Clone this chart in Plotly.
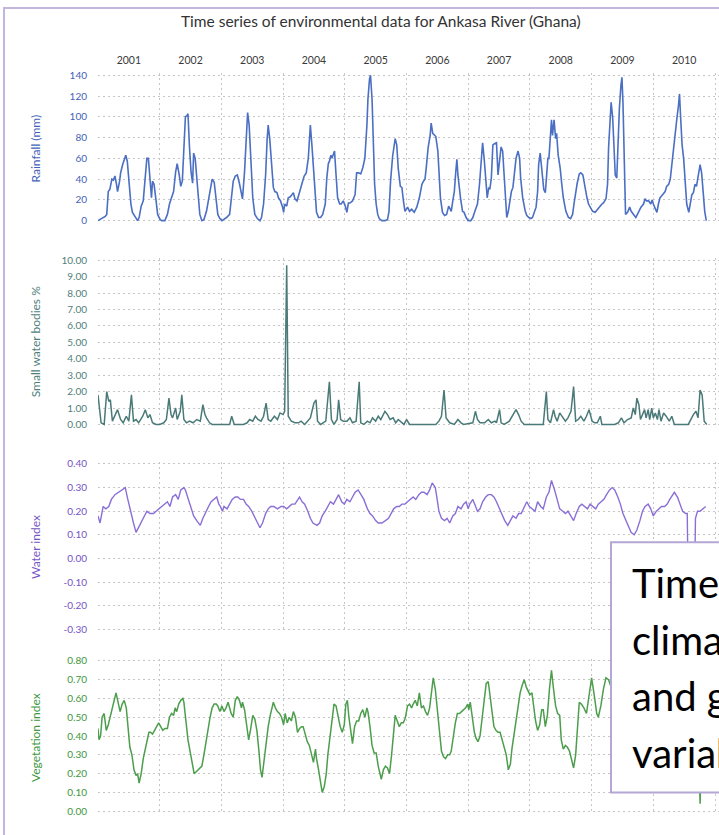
import plotly.graph_objects as go

# ---------------- data (time in months since Jan 2001) ----------------
rain_month = [0.0,0.7,1.4,1.7,2.0,2.3,2.7,3.0,3.3,3.6,3.8,4.2,4.4,4.8,5.1,5.4,5.7,6.0,6.4,6.7,7.2,7.7,8.0,8.4,8.8,9.1,9.5,9.8,10.1,10.4,10.6,10.9,11.3,11.6,12.1,
    12.4,13.0,13.5,13.9,14.2,14.7,15.1,15.4,15.8,16.1,16.4,16.7,17.0,17.3,17.5,17.8,18.1,18.4,18.6,18.9,19.2,19.5,19.8,20.2,20.6,21.1,21.7,22.2,22.6,23.0,23.3,23.7,24.1,
    24.4,25.0,25.6,26.0,26.3,26.7,27.1,27.5,27.9,28.1,28.5,28.8,29.1,29.4,29.7,30.1,30.5,31.0,31.5,31.8,32.2,32.6,32.9,33.1,33.4,33.6,33.9,34.1,34.4,34.8,35.1,35.5,35.9,36.1,
    36.3,36.7,37.0,37.4,37.7,38.0,38.3,38.7,39.0,39.4,39.8,40.1,40.5,40.9,41.1,41.3,41.6,41.9,42.2,42.5,42.9,43.3,43.7,44.2,44.5,44.8,45.0,45.3,45.5,45.8,46.0,46.3,46.6,47.0,47.3,47.7,48.1,
    48.4,48.7,49.0,49.5,50.0,50.3,50.7,51.1,51.5,51.9,52.3,52.5,52.8,53.0,53.3,53.6,53.8,54.1,54.4,54.7,55.2,55.8,56.3,56.6,56.9,57.3,57.6,57.8,58.1,58.4,58.8,59.1,59.4,59.7,60.1,
    60.2,60.6,61.0,61.5,62.0,62.5,63.0,63.3,63.6,63.9,64.2,64.6,64.8,65.1,65.4,65.7,66.1,66.3,66.6,67.0,67.4,67.8,68.2,68.5,68.7,69.0,69.3,69.6,69.8,70.0,70.3,70.5,70.9,71.2,71.6,72.0,
    72.5,72.9,73.3,73.8,74.2,74.5,74.8,75.1,75.4,75.7,76.0,76.2,76.5,76.8,77.1,77.5,77.8,78.1,78.4,78.7,79.0,79.2,79.5,79.8,80.1,80.4,80.7,81.0,81.3,81.7,82.0,82.2,82.6,83.1,83.4,83.8,
    84.2,84.5,84.9,85.2,85.5,85.7,86.0,86.2,86.5,86.7,87.0,87.3,87.5,87.7,87.9,88.2,88.4,88.7,89.0,89.2,89.5,89.9,90.2,90.5,91.0,91.5,91.9,92.3,92.6,92.9,93.2,93.6,93.9,94.3,94.7,95.1,95.4,95.8,
    96.2,96.7,97.1,97.5,98.0,98.3,98.8,99.1,99.3,99.6,99.8,100.1,100.4,100.6,100.9,101.1,101.4,101.7,101.9,102.1,102.3,102.6,103.0,103.4,103.7,104.1,104.6,105.1,105.6,106.1,106.4,106.7,107.1,107.5,107.8,108.0,108.3,108.7,
    109.0,109.3,109.8,110.3,110.6,111.0,111.3,111.6,111.9,112.2,112.6,112.9,113.1,113.3,113.6,113.9,114.2,114.5,114.9,115.2,115.5,115.8,116.1,116.4,116.8,117.1,117.4,117.7,118.0,118.3]
rain_mm = [0,2,4,6,28,30,40,39,43,35,28,38,46,54,60,63,57,38,16,8,4,0,3,14,19,35,60,60,41,22,38,35,19,6,1,
    0,0,6,16,21,28,47,55,44,33,38,73,100,101,103,70,47,36,65,60,44,28,6,0,1,9,28,40,37,19,6,2,0,
    1,3,6,22,38,43,44,36,24,21,47,76,104,92,57,22,6,2,0,3,16,44,79,92,79,65,50,32,28,27,22,19,13,8,
    16,14,22,23,25,27,21,19,24,30,38,43,46,60,78,92,73,50,25,8,3,3,6,16,41,55,57,63,60,65,67,44,22,16,16,19,14,
    8,17,17,19,25,46,46,45,51,60,92,117,136,140,117,76,35,16,6,2,0,0,1,9,38,62,76,79,73,50,33,32,19,9,12,
    13,9,11,8,13,22,35,38,40,54,70,82,94,84,82,81,67,48,22,8,5,6,14,11,9,19,28,48,59,44,28,22,9,8,3,0,
    0,3,9,16,35,57,75,60,35,22,32,30,41,73,74,75,44,60,71,67,44,19,3,9,19,28,32,44,60,67,60,41,22,9,5,3,
    2,3,8,13,28,54,65,54,41,30,27,50,60,60,79,97,82,97,79,84,63,50,35,22,9,3,2,6,17,28,36,45,46,44,32,22,16,13,
    9,8,11,13,16,17,21,35,70,101,114,99,70,44,41,73,108,130,138,114,67,6,8,13,9,6,3,8,13,16,21,19,19,16,20,16,12,8,
    16,22,25,28,33,35,40,55,63,82,99,111,122,101,73,60,35,16,8,19,25,27,35,33,46,54,46,28,9,0]

swb_month = [0.0,0.6,1.2,1.7,2.1,2.4,2.8,3.3,3.8,4.4,4.9,5.5,6.0,6.5,6.9,7.4,7.9,8.7,9.2,9.7,10.1,10.6,11.3,12.0,12.8,13.3,13.8,14.2,14.5,15.1,15.4,16.0,16.3,16.7,17.2,17.8,18.5,19.2,19.9,20.4,20.8,21.1,21.7,22.2,
    25.6,26.0,26.5,28.3,29.0,29.5,30.1,30.6,31.1,31.7,32.2,32.7,33.1,33.6,34.3,34.9,35.4,36.0,36.3,36.7,37.0,37.6,38.3,39.0,39.5,40.2,41.3,42.0,42.4,42.7,43.3,44.3,45.0,45.4,45.9,46.5,46.8,47.2,47.7,
    48.4,49.0,49.5,50.2,50.8,51.1,51.7,52.4,52.9,53.4,54.0,54.5,55.0,55.8,56.3,56.8,57.4,57.9,58.4,59.0,59.5,60.0,60.6,65.7,66.3,66.8,67.3,67.7,68.4,69.3,70.0,70.6,71.1,
    72.9,73.4,73.8,74.3,75.2,75.9,76.5,77.2,77.5,78.1,78.4,79.0,80.0,80.7,81.3,81.8,82.3,82.9,86.6,87.2,87.5,88.0,88.6,88.9,89.3,89.8,90.4,90.9,91.4,92.0,92.5,92.9,93.4,93.9,94.5,95.0,95.5,96.1,96.6,97.1,97.7,98.0,
    100.5,101.2,101.8,102.3,103.0,103.7,104.1,104.5,104.8,105.2,105.5,105.9,106.3,106.6,107.0,107.3,107.7,108.0,108.4,108.8,109.1,109.5,110.0,110.5,111.1,111.6,112.1,114.8,115.3,115.8,116.3,116.7,117.1,117.5,117.9,118.4]
swb_pct = [1.8,0.1,0,2.0,1.4,1.5,0.2,0.6,0.9,0.3,0.1,0.5,0.2,1.8,0.2,0.3,0.1,0.5,0.9,0.4,0.6,0.1,0,0,0.1,0.3,1.6,0.6,0.4,1.0,0.3,0.8,1.8,0.3,0.1,0.2,0.1,0.3,0.2,1.2,0.6,0.4,0.1,0,
    0,0.5,0,0,0.1,0.3,0.2,0.5,0.3,0.2,0.5,1.3,0.3,0.2,0.5,0.3,0.7,0.6,0.8,9.7,0.5,0.2,0.1,0.1,0.2,0,0.4,1.3,1.5,0.2,0,0.2,2.6,0.3,0,0.3,1.5,0.3,0.2,
    0.2,0.4,0.1,0.2,2.6,0.1,0,0.2,0.1,0.4,0.2,0.5,0.3,0.8,0.6,0.3,0.4,0.1,0.3,0.1,0,0.3,0,0,0.2,0.5,2.1,0.4,0.1,0,0.3,0.1,0,
    0.1,0.8,0.3,0.1,0.1,0.3,0.1,0.2,0.1,0.9,0.1,0,0.2,0.6,0.9,0.6,0.2,0,0,2.0,0.3,0.1,0.9,0.5,0.2,0.7,0.4,0.2,0.4,0.8,2.3,0.2,0.3,0.5,0.2,0.5,0.9,0.2,0.1,0.1,0.5,0,
    0,0.1,0.4,0.1,0.3,0.4,1.0,0.6,1.6,1.2,0.3,0.6,0.9,0.4,0.9,0.3,1.0,0.4,0.7,0.3,0.9,0.2,0.7,0.5,0.2,0.5,0,0,0.3,0.6,0.8,0.4,2.1,1.8,0.2,0]

wi_month = [0.0,0.4,1.0,1.5,2.1,2.6,3.3,4.0,4.6,5.3,5.8,6.3,6.9,7.4,7.9,8.5,9.0,9.5,10.1,10.8,11.3,11.9,12.4,12.9,13.5,14.0,14.5,15.1,15.6,16.1,16.7,17.0,17.6,18.1,18.6,19.2,19.9,20.4,21.0,21.5,22.0,22.6,23.1,23.5,23.8,
    24.2,24.5,25.1,25.6,26.1,26.7,27.2,27.7,28.3,28.8,29.3,29.9,30.4,31.0,31.5,32.0,32.6,33.1,33.6,34.2,34.9,35.6,36.1,36.7,37.2,37.7,38.3,38.8,39.2,39.7,40.2,40.8,41.3,41.8,42.6,43.1,43.6,44.2,44.7,45.2,45.8,46.3,46.8,47.4,47.9,
    48.4,49.0,49.5,50.0,50.6,51.1,51.7,52.4,52.9,53.4,54.0,54.5,55.2,55.9,56.5,57.0,57.5,58.1,58.6,59.1,59.7,60.2,60.7,61.3,61.8,62.4,62.9,63.4,64.0,64.5,65.0,65.6,65.9,66.3,66.8,67.4,67.9,68.4,69.0,69.5,70.0,70.6,71.1,71.6,
    72.0,72.3,72.9,73.4,73.8,74.3,74.8,75.4,75.9,76.5,77.0,77.5,78.1,78.6,79.1,79.7,80.2,80.7,81.3,81.8,82.3,82.9,83.4,83.9,84.5,85.0,85.5,86.1,86.6,87.2,87.7,88.2,88.8,89.3,89.8,90.4,90.9,91.4,92.0,92.5,93.0,93.6,94.1,94.6,95.2,95.7,
    96.3,96.8,97.3,97.9,98.4,98.9,99.5,100.0,100.5,101.1,101.6,102.1,102.7,103.2,103.7,104.3,104.8,105.4,105.9,106.4,107.0,107.5,108.0,108.6,109.1,109.6,110.2,110.7,111.2,111.8,112.1,112.7,113.2,113.7,114.3,114.6,114.8,116.0,116.2,116.6,117.1,117.7,118.2]
wi_val = [0.18,0.15,0.22,0.21,0.22,0.25,0.27,0.28,0.29,0.30,0.25,0.20,0.15,0.11,0.13,0.16,0.18,0.20,0.19,0.19,0.20,0.21,0.22,0.23,0.24,0.22,0.26,0.27,0.25,0.29,0.30,0.29,0.25,0.22,0.18,0.16,0.14,0.17,0.20,0.22,0.24,0.25,0.26,0.23,0.22,
    0.20,0.22,0.21,0.23,0.25,0.26,0.26,0.25,0.25,0.23,0.22,0.20,0.18,0.15,0.13,0.15,0.19,0.21,0.22,0.22,0.21,0.22,0.22,0.21,0.22,0.23,0.23,0.25,0.26,0.24,0.23,0.20,0.17,0.15,0.14,0.15,0.18,0.20,0.22,0.24,0.23,0.25,0.27,0.24,0.23,
    0.25,0.24,0.26,0.28,0.29,0.27,0.25,0.21,0.19,0.18,0.16,0.15,0.15,0.16,0.17,0.19,0.21,0.22,0.22,0.23,0.23,0.24,0.25,0.26,0.25,0.27,0.28,0.28,0.27,0.29,0.32,0.30,0.26,0.20,0.17,0.16,0.17,0.15,0.18,0.19,0.22,0.21,0.23,0.24,
    0.21,0.23,0.25,0.22,0.20,0.21,0.24,0.26,0.27,0.27,0.26,0.24,0.21,0.18,0.16,0.14,0.16,0.18,0.17,0.19,0.19,0.22,0.24,0.22,0.21,0.20,0.24,0.22,0.21,0.26,0.28,0.33,0.29,0.25,0.21,0.20,0.19,0.20,0.18,0.16,0.19,0.22,0.23,0.22,0.21,0.23,
    0.22,0.21,0.23,0.24,0.25,0.27,0.29,0.30,0.29,0.26,0.23,0.19,0.16,0.13,0.11,0.10,0.12,0.16,0.20,0.22,0.23,0.21,0.18,0.20,0.21,0.22,0.22,0.23,0.25,0.27,0.28,0.26,0.23,0.20,0.19,0.19,-0.15,-0.15,0.17,0.20,0.20,0.21,0.22]

vi_month = [0.0,0.2,0.5,0.8,1.2,1.6,2.0,2.5,3.0,3.5,3.9,4.3,4.7,5.1,5.5,5.9,6.2,6.6,7.0,7.4,7.7,8.0,8.4,8.8,9.2,9.6,9.9,10.2,10.6,11.0,11.4,11.8,
    12.2,12.6,13.0,13.5,13.9,14.3,14.7,15.0,15.3,15.7,16.1,16.5,16.7,17.1,17.5,17.9,18.3,18.7,19.1,19.5,19.8,20.2,20.6,21.0,21.4,21.8,22.2,22.6,23.0,23.3,23.7,
    24.1,24.5,24.9,25.3,25.6,25.9,26.3,26.7,27.1,27.5,27.9,28.1,28.5,28.9,29.3,29.7,30.1,30.5,30.9,31.3,31.6,31.9,32.3,32.7,33.1,33.5,33.9,34.1,34.5,34.9,35.3,35.7,
    36.1,36.4,36.8,37.2,37.6,38.0,38.4,38.8,39.2,39.6,39.9,40.3,40.7,41.1,41.5,41.9,42.3,42.5,42.9,43.3,43.6,44.0,44.4,44.7,45.1,45.5,45.9,46.3,46.7,47.1,47.5,47.9,
    48.2,48.5,48.8,49.2,49.5,49.9,50.3,50.7,51.1,51.5,51.9,52.3,52.5,52.9,53.3,53.7,54.1,54.5,54.9,55.1,55.5,55.9,56.3,56.7,57.1,57.5,57.8,58.2,58.6,59.0,59.4,59.8,
    60.2,60.6,61.0,61.3,61.7,62.1,62.5,62.9,63.3,63.7,64.1,64.5,64.9,65.2,65.6,66.0,66.4,66.8,67.2,67.6,68.0,68.4,68.7,69.1,69.5,69.9,70.3,70.7,71.1,71.5,71.9,
    72.1,72.4,72.8,73.2,73.5,73.9,74.3,74.7,75.1,75.5,75.9,76.3,76.7,77.0,77.4,77.8,78.2,78.6,79.0,79.4,79.8,80.2,80.5,80.9,81.3,81.7,82.1,82.5,82.9,83.3,83.7,
    84.0,84.4,84.8,85.1,85.5,85.9,86.3,86.6,87.0,87.4,87.8,88.2,88.6,89.0,89.4,89.8,90.1,90.5,90.9,91.3,91.7,92.1,92.5,92.9,93.3,93.6,94.0,94.5,95.0,95.6,
    96.0,96.5,97.0,97.3,97.8,98.3,98.8,99.3,99.8,101.5,103.5,105.5,107.5,109.5,111.5,113.5,115.5,116.8,117.1,117.4,118.3]
vi_val = [0.44,0.38,0.40,0.50,0.52,0.43,0.46,0.52,0.58,0.63,0.58,0.53,0.57,0.59,0.55,0.45,0.34,0.30,0.22,0.19,0.20,0.15,0.20,0.28,0.33,0.38,0.42,0.42,0.41,0.43,0.45,0.47,
    0.45,0.43,0.44,0.44,0.50,0.52,0.51,0.55,0.53,0.57,0.59,0.60,0.58,0.48,0.38,0.32,0.25,0.20,0.21,0.22,0.23,0.24,0.30,0.37,0.45,0.50,0.55,0.57,0.57,0.56,0.53,
    0.56,0.53,0.55,0.58,0.55,0.52,0.50,0.59,0.61,0.59,0.55,0.58,0.54,0.45,0.38,0.44,0.51,0.49,0.43,0.32,0.22,0.18,0.28,0.38,0.45,0.51,0.55,0.58,0.55,0.53,0.52,0.50,
    0.46,0.52,0.47,0.50,0.48,0.53,0.50,0.42,0.44,0.45,0.45,0.41,0.37,0.35,0.30,0.26,0.33,0.28,0.22,0.15,0.10,0.13,0.20,0.30,0.40,0.50,0.57,0.56,0.50,0.45,0.42,0.46,
    0.57,0.59,0.50,0.40,0.36,0.45,0.48,0.48,0.52,0.54,0.50,0.55,0.53,0.45,0.35,0.31,0.31,0.24,0.19,0.17,0.22,0.24,0.23,0.20,0.30,0.45,0.51,0.48,0.45,0.47,0.47,0.50,
    0.56,0.57,0.55,0.57,0.59,0.56,0.63,0.55,0.56,0.53,0.51,0.55,0.65,0.71,0.65,0.55,0.42,0.32,0.29,0.28,0.30,0.30,0.32,0.40,0.47,0.52,0.52,0.53,0.54,0.55,0.57,
    0.54,0.58,0.50,0.42,0.39,0.37,0.40,0.50,0.60,0.68,0.69,0.60,0.52,0.45,0.43,0.42,0.42,0.38,0.34,0.30,0.22,0.25,0.33,0.40,0.48,0.56,0.63,0.67,0.70,0.66,0.64,
    0.62,0.63,0.55,0.48,0.43,0.46,0.54,0.54,0.45,0.51,0.65,0.75,0.65,0.56,0.52,0.51,0.38,0.33,0.35,0.34,0.32,0.28,0.23,0.30,0.45,0.58,0.57,0.55,0.52,0.62,
    0.71,0.62,0.52,0.50,0.56,0.65,0.71,0.70,0.66,0.55,0.45,0.40,0.50,0.60,0.62,0.55,0.45,0.40,0.04,0.40,0.48]

year_labels = ["2001","2002","2003","2004","2005","2006","2007","2008","2009","2010"]
rain_ticks = [0,20,40,60,80,100,120,140]
swb_ticks = [0,1,2,3,4,5,6,7,8,9,10]
wi_ticks = [-0.3,-0.2,-0.1,0.0,0.1,0.2,0.3,0.4]
vi_ticks = [0.0,0.1,0.2,0.3,0.4,0.5,0.6,0.7,0.8]

# ---------------- figure ----------------
W, H = 719, 835
def px_x(p): return p / W
def px_y(p): return 1 - p / H

def to_year(ms): return [2001 + m / 12 for m in ms]

FONT = "Lato, 'Open Sans', sans-serif"
GRID = "#c6c6c6"
DOT = "2px,3px"
C_RAIN, C_RAIN_T = "#4b6fc3", "#3f62b8"
C_SWB, C_SWB_T = "#4a7a78", "#4f7f7c"
C_WI, C_WI_T = "#8a6fd6", "#7555c4"
C_VI, C_VI_T = "#4c9e4c", "#3d973d"

fig = go.Figure()
series = [
    (rain_month, rain_mm, C_RAIN, 1.6),
    (swb_month, swb_pct, C_SWB, 1.5),
    (wi_month, wi_val, C_WI, 1.4),
    (vi_month, vi_val, C_VI, 1.5),
]
for i, (m, v, c, w) in enumerate(series):
    fig.add_trace(go.Scatter(x=to_year(m), y=v, mode="lines",
                             line=dict(color=c, width=w),
                             xaxis="x" if i == 0 else f"x{i+1}",
                             yaxis="y" if i == 0 else f"y{i+1}",
                             showlegend=False, hoverinfo="skip"))

years_int = list(range(2001, 2012))
mid_years = [y + 0.5 for y in range(2001, 2011)]
xdom = [px_x(98), 1.0]
xrange_ = [2001, 2011 + 4 / 61.7]

def xaxis(show_labels, anchor):
    return dict(domain=xdom, range=xrange_, anchor=anchor,
                tickmode="array", tickvals=mid_years, ticktext=year_labels,
                showticklabels=show_labels, side="top", ticks="",
                ticklabelstandoff=6,
                tickfont=dict(family=FONT, size=10.5, color="#3a3a3a"),
                showgrid=False, zeroline=False, showline=False,
                minor=dict(tickmode="array", tickvals=years_int, showgrid=True,
                           gridcolor=GRID, griddash=DOT, gridwidth=1, ticks=""))

def yaxis(rng, dom, ticks, fmt, color, anchor):
    return dict(domain=dom, range=rng, anchor=anchor,
                tickmode="array", tickvals=ticks, ticktext=[fmt(t) for t in ticks],
                tickfont=dict(family=FONT, size=10, color=color),
                ticks="", ticklabelstandoff=10,
                showgrid=True, gridcolor=GRID, griddash=DOT, gridwidth=1,
                zeroline=False, showline=False)

def f0(t): return f"{t:d}"
def f2(t): return f"{t:.2f}"

fig.update_layout(
    width=W, height=H, margin=dict(l=0, r=0, t=0, b=0),
    paper_bgcolor="white", plot_bgcolor="white",
    xaxis=xaxis(True, "y"), xaxis2=xaxis(False, "y2"),
    xaxis3=xaxis(False, "y3"), xaxis4=xaxis(False, "y4"),
    yaxis=yaxis([-2, 142], [px_y(220.1), px_y(68.9)], rain_ticks, f0, C_RAIN_T, "x"),
    yaxis2=yaxis([-0.15, 10.15], [px_y(426.5), px_y(255.5)], swb_ticks, f2, C_SWB_T, "x2"),
    yaxis3=yaxis([-0.31, 0.41], [px_y(633.4), px_y(461.6)], wi_ticks, f2, C_WI_T, "x3"),
    yaxis4=yaxis([-0.01, 0.81], [px_y(816.9), px_y(661.1)], vi_ticks, f2, C_VI_T, "x4"),
)

annotations = [
    dict(text="Time series of environmental data for Ankasa River (Ghana)",
         x=px_x(381), y=px_y(16), xref="paper", yref="paper", showarrow=False,
         xanchor="center", yanchor="middle",
         font=dict(family=FONT, size=15.5, color="#333333")),
]
titles = [("Rainfall (mm)", 145, C_RAIN_T), ("Small water bodies %", 341, C_SWB_T),
          ("Water index", 548, C_WI_T), ("Vegetation index", 741, C_VI_T)]
for txt, yc, col in titles:
    annotations.append(dict(text=txt, x=px_x(35), y=px_y(yc), xref="paper", yref="paper",
                            showarrow=False, textangle=-90, xanchor="center", yanchor="middle",
                            font=dict(family=FONT, size=12, color=col)))

box_lines = [("Time series of", 584), ("climatic", 642), ("and geographical", 699), ("variables", 756)]
for txt, yc in box_lines:
    annotations.append(dict(text=txt, x=px_x(630), y=px_y(yc), xref="paper", yref="paper",
                            showarrow=False, xanchor="left", yanchor="middle",
                            font=dict(family="Lato, sans-serif", size=40, color="#000000")))
fig.update_layout(annotations=annotations)

fig.update_layout(shapes=[
    dict(type="rect", xref="paper", yref="paper", layer="above",
         x0=px_x(611), x1=1.2, y0=px_y(796), y1=px_y(543),
         line=dict(color="#b4a7d6", width=2), fillcolor="white"),
    dict(type="rect", xref="paper", yref="paper", layer="above",
         x0=px_x(4), x1=1.2, y0=-0.2, y1=px_y(3),
         line=dict(color="#c3b6de", width=2), fillcolor="rgba(0,0,0,0)"),
])

fig.write_html("out.html", config={"displayModeBar": False, "staticPlot": True},
               post_script="document.body.style.margin='0';document.body.style.overflow='hidden';"
                           "document.documentElement.style.overflow='hidden';")
